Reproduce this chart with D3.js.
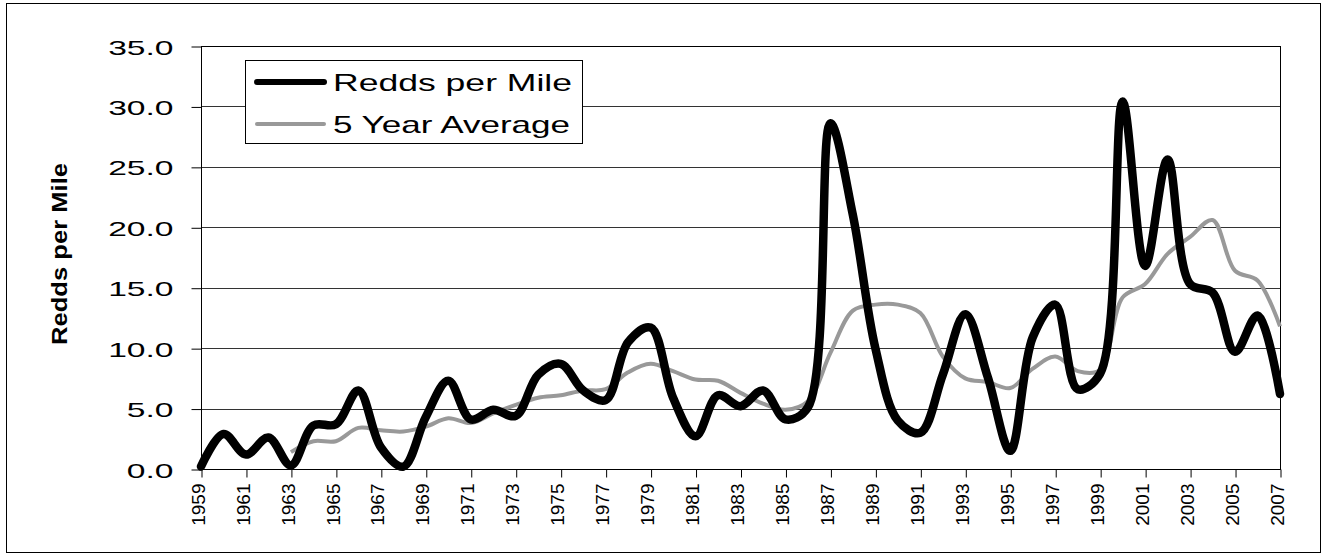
<!DOCTYPE html>
<html>
<head>
<meta charset="utf-8">
<script src="https://cdn.jsdelivr.net/npm/d3@7"></script>
<style>
  body { margin: 0; background: #fff; }
  text { font-family: "Liberation Sans", Arial, sans-serif; fill: #000; }
</style>
</head>
<body>
<svg id="chart" width="1324" height="556"></svg>
<script>
// categories (every year on the axis)
var years = [1959, 1960, 1961, 1962, 1963, 1964, 1965, 1966, 1967, 1968,
             1969, 1970, 1971, 1972, 1973, 1974, 1975, 1976, 1977, 1978,
             1979, 1980, 1981, 1982, 1983, 1984, 1985, 1986, 1987, 1988,
             1989, 1990, 1991, 1992, 1993, 1994, 1995, 1996, 1997, 1998,
             1999, 2000, 2001, 2002, 2003, 2004, 2005, 2006, 2007];

// redds per mile, one value per year
var redds = [0.2, 2.9, 1.2, 2.6, 0.3, 3.6, 3.7, 6.5, 1.8, 0.2,
             4.3, 7.3, 4.1, 4.9, 4.4, 7.8, 8.7, 6.5, 5.7, 10.5,
             11.7, 5.9, 2.7, 6.1, 5.2, 6.5, 4.1, 5.1, 28.6, 21.0,
             10.0, 4.0, 3.0, 7.8, 12.8, 7.6, 1.5, 10.9, 13.6, 6.6,
             7.9, 30.4, 16.8, 25.6, 15.3, 14.6, 9.7, 12.7, 6.2];

// 5 year average (first value in 1963)
var average = [null, null, null, null, 1.4, 2.3, 2.3, 3.4, 3.2, 3.1,
               3.5, 4.2, 3.8, 4.6, 5.3, 5.9, 6.1, 6.5, 6.6, 8.0,
               8.7, 8.1, 7.4, 7.3, 6.3, 5.4, 4.9, 5.6, 9.6, 13.1,
               13.6, 13.6, 12.9, 9.3, 7.5, 7.2, 6.7, 8.3, 9.3, 8.1,
               8.2, 14.2, 15.3, 17.8, 19.2, 20.6, 16.4, 15.6, 11.8];

var yTicks = [0, 5, 10, 15, 20, 25, 30, 35];
var labelYears = years.filter(function(d) { return d % 2 === 1; });

var seriesNames = ["Redds per Mile", "5 Year Average"];

var svg = d3.select("#chart");

var plotLeft = 201, plotRight = 1280, plotTop = 46, plotBottom = 469;

var x = d3.scaleLinear().domain([1959, 2007]).range([plotLeft, plotRight]);
var y = d3.scaleLinear().domain([0, 35]).range([plotBottom, plotTop]);

// outer chart border
svg.append("rect")
    .attr("x", 6.5).attr("y", 3.5)
    .attr("width", 1314).attr("height", 549)
    .attr("fill", "none")
    .attr("stroke", "#000")
    .attr("stroke-width", 1);

// gridlines
svg.append("g")
    .selectAll("line")
    .data(yTicks)
    .enter()
    .append("line")
    .attr("x1", plotLeft).attr("x2", plotRight)
    .attr("y1", function(d) { return Math.round(y(d)) + 0.5; })
    .attr("y2", function(d) { return Math.round(y(d)) + 0.5; })
    .attr("stroke", "#333")
    .attr("stroke-width", 1);

// plot area frame
svg.append("rect")
    .attr("x", plotLeft + 0.5).attr("y", plotTop + 0.5)
    .attr("width", plotRight - plotLeft).attr("height", plotBottom - plotTop)
    .attr("fill", "none")
    .attr("stroke", "#000");

// y axis
var yAxis = d3.axisLeft(y)
    .tickValues(yTicks)
    .tickFormat(d3.format(".1f"))
    .tickSize(10)
    .tickSizeOuter(0)
    .tickPadding(7.5);

var gy = svg.append("g")
    .attr("transform", "translate(" + (plotLeft + 0.5) + ",0.5)")
    .call(yAxis);
gy.select(".domain").remove();
gy.selectAll("line").attr("stroke", "#000");
gy.selectAll("text")
    .attr("font-size", 21)
    .attr("font-family", "Liberation Sans, Arial, sans-serif")
    .attr("transform", "scale(1.6,1)")
    .attr("x", -28 / 1.6)
    .attr("dy", "0.36em");

// x axis
var xAxis = d3.axisBottom(x)
    .tickValues(labelYears)
    .tickFormat(d3.format("d"))
    .tickSize(8)
    .tickSizeOuter(0);

var gx = svg.append("g")
    .attr("transform", "translate(0.5," + (plotBottom + 0.5) + ")")
    .call(xAxis);
gx.select(".domain").remove();
gx.selectAll("line").attr("stroke", "#000");
gx.selectAll("text")
    .attr("font-size", 19)
    .attr("font-family", "Liberation Sans, Arial, sans-serif")
    .attr("text-anchor", "end")
    .attr("transform", "rotate(-90)")
    .attr("x", -14)
    .attr("y", -4)
    .attr("dy", "0.35em");

// y axis title
svg.append("text")
    .attr("transform", "translate(59,254) rotate(-90)")
    .attr("text-anchor", "middle")
    .attr("dy", "0.35em")
    .attr("font-size", 22)
    .attr("font-weight", "bold")
    .attr("textLength", 182)
    .attr("lengthAdjust", "spacingAndGlyphs")
    .text("Redds per Mile");

// lines
var line = d3.line()
    .defined(function(d) { return d[1] != null; })
    .x(function(d) { return x(d[0]); })
    .y(function(d) { return y(d[1]); })
    .curve(d3.curveCatmullRom.alpha(0.5));

svg.append("path")
    .datum(years.map(function(yr, i) { return [yr, average[i]]; }))
    .attr("d", line)
    .attr("fill", "none")
    .attr("stroke", "#999")
    .attr("stroke-width", 4)
    .attr("stroke-linejoin", "round");

svg.append("path")
    .datum(years.map(function(yr, i) { return [yr, redds[i]]; }))
    .attr("d", line)
    .attr("fill", "none")
    .attr("stroke", "#000")
    .attr("stroke-width", 8.5)
    .attr("stroke-linejoin", "round")
    .attr("stroke-linecap", "round");

// legend
var legend = svg.append("g");
legend.append("rect")
    .attr("x", 245.5).attr("y", 60.5)
    .attr("width", 337).attr("height", 83)
    .attr("fill", "#fff")
    .attr("stroke", "#000");

var legendRows = [
    { name: seriesNames[0], color: "#000", width: 6, cy: 82, len: 239 },
    { name: seriesNames[1], color: "#999", width: 4, cy: 124, len: 237 }
];

var row = legend.selectAll("g.row")
    .data(legendRows)
    .enter()
    .append("g")
    .classed("row", true);

row.append("line")
    .attr("x1", 257).attr("x2", 324)
    .attr("y1", function(d) { return d.cy; })
    .attr("y2", function(d) { return d.cy; })
    .attr("stroke", function(d) { return d.color; })
    .attr("stroke-width", function(d) { return d.width; })
    .attr("stroke-linecap", "round");

row.append("text")
    .attr("x", 333)
    .attr("y", function(d) { return d.cy; })
    .attr("dy", "0.36em")
    .attr("font-size", 24)
    .attr("textLength", function(d) { return d.len; })
    .attr("lengthAdjust", "spacingAndGlyphs")
    .text(function(d) { return d.name; });
</script>
</body>
</html>
